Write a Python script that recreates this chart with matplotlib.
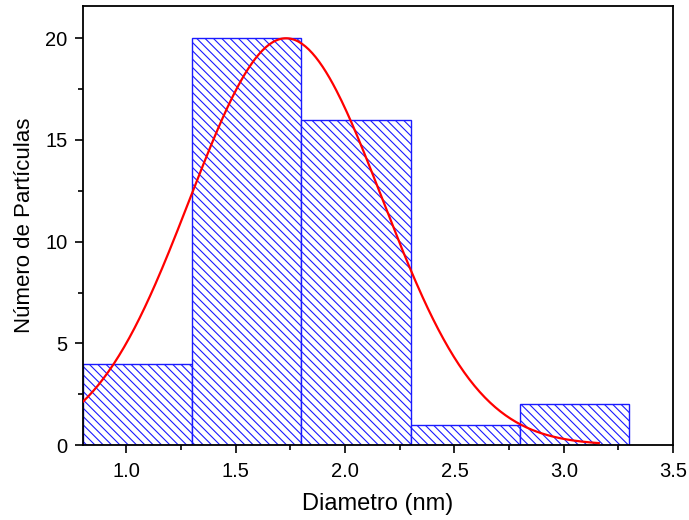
import numpy as np
import matplotlib
matplotlib.use("Agg")
import matplotlib.pyplot as plt
from matplotlib.ticker import MultipleLocator

plt.rcParams['font.family'] = ['Liberation Sans', 'DejaVu Sans']
plt.rcParams['hatch.linewidth'] = 0.8

# Histogram data
bin_edges = [0.8, 1.3, 1.8, 2.3, 2.8, 3.3]
counts = [4, 20, 16, 1, 2]

# Gaussian fit parameters
fit_center = 1.73
fit_sigma = 0.439
fit_amplitude = 20.0
fit_range = (0.8, 3.16)

fig = plt.figure(figsize=(6.89, 5.2), dpi=100)
ax = fig.add_axes([0.120, 0.144, 0.857, 0.845])

lefts = np.array(bin_edges[:-1])
widths = np.diff(bin_edges)
ax.bar(lefts, counts, width=widths, align='edge', facecolor='white',
       edgecolor='#1a1aff', hatch='\\\\\\\\', linewidth=1.0, zorder=2)

xf = np.linspace(fit_range[0], fit_range[1], 300)
yf = fit_amplitude * np.exp(-(xf - fit_center) ** 2 / (2 * fit_sigma ** 2))
ax.plot(xf, yf, color='red', linewidth=1.6, zorder=3)

ax.set_xlim(0.8, 3.5)
ax.set_ylim(0, 21.6)
ax.xaxis.set_major_locator(MultipleLocator(0.5))
ax.xaxis.set_minor_locator(MultipleLocator(0.25))
ax.yaxis.set_major_locator(MultipleLocator(5))
ax.yaxis.set_minor_locator(MultipleLocator(2.5))
ax.xaxis.set_major_formatter(plt.FormatStrFormatter('%.1f'))

ax.tick_params(which='major', direction='out', length=6, width=1.2, labelsize=14.5)
ax.tick_params(axis='x', which='major', pad=6)
ax.tick_params(axis='y', which='major', pad=5)
ax.tick_params(which='minor', direction='out', length=3.5, width=1.2)
for s in ax.spines.values():
    s.set_linewidth(1.3)

ax.set_xlabel('Diametro (nm)', fontsize=17, labelpad=9)
ax.set_ylabel('Número de Partículas', fontsize=16, labelpad=7)

fig.savefig('out.png', dpi=100)
